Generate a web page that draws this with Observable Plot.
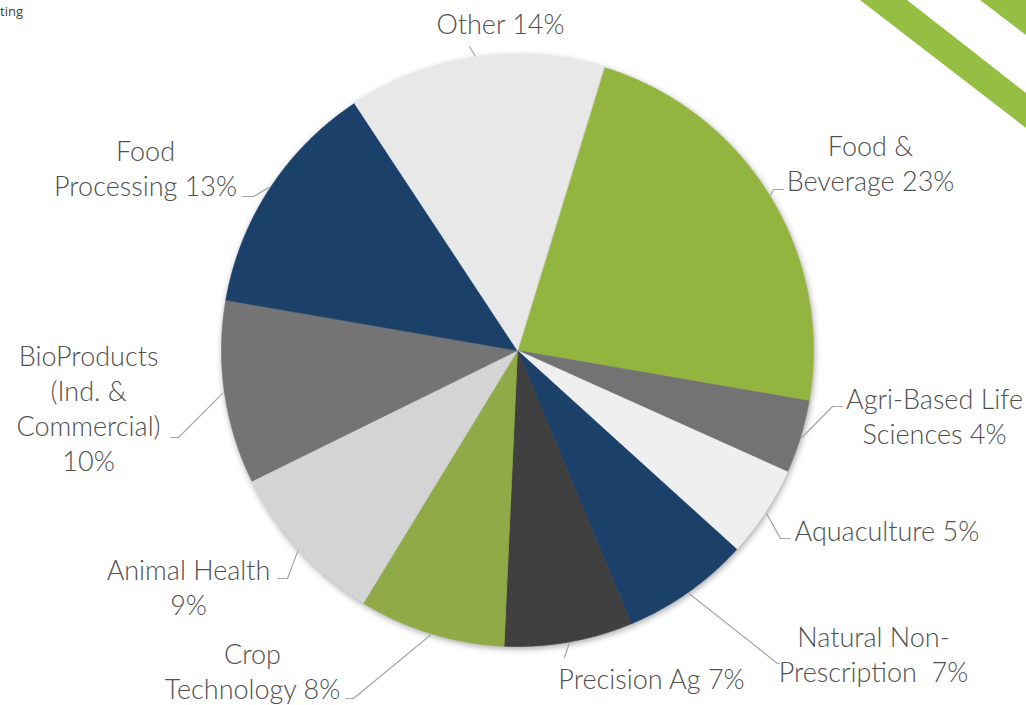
<!DOCTYPE html>
<html>
<head>
<meta charset="utf-8">
<script src="https://cdn.jsdelivr.net/npm/d3@7"></script>
<script src="https://cdn.jsdelivr.net/npm/@observablehq/plot@0.6"></script>
<style>
  html, body { margin: 0; padding: 0; background: #fff; }
  #wrap { position: relative; width: 1026px; height: 705px; overflow: hidden; }
  #corner { position: absolute; left: 0; top: 2px; font: 13px "Open Sans", sans-serif; color: #404040; }
  .stripe { position: absolute; left: 0; top: 0; width: 1026px; height: 705px; background: #94bf43;
            filter: drop-shadow(2px 2px 2px rgba(0,0,0,0.3)); }
</style>
</head>
<body>
<div id="wrap"></div>
<script>
// ---- data ----
const categories = ["Food & Beverage", "Agri-Based Life Sciences", "Aquaculture", "Natural Non-Prescription",
  "Precision Ag", "Crop Technology", "Animal Health", "BioProducts (Ind. & Commercial)", "Food Processing", "Other"];
const shares = [23, 4, 5, 7, 7, 8, 9, 10, 13, 14];
const labels = ["Food &\nBeverage 23%", "Agri-Based Life\nSciences 4%", "Aquaculture 5%", "Natural Non-\nPrescription  7%",
  "Precision Ag 7%", "Crop\nTechnology 8%", "Animal Health\n9%", "BioProducts\n(Ind. &\nCommercial)\n10%",
  "Food\nProcessing 13%", "Other 14%"];
const colors = ["#93b540", "#737373", "#efefef", "#1b416b", "#404040", "#8faa46", "#d4d4d4", "#747474", "#1b416b", "#e8e8e8"];

// ---- layout (pixels) ----
const W = 1026, H = 705, CX = 517, CY = 350, R = 296, START = 17;
// label first-line center, leader elbow, leader end
const labelAt = [[870,144],[934,397],[794,529],[873,635],[651,677],[252,652],[188,568],[88,354],[145,149],[500,22]];
const anchorAt = ["middle","middle","start","middle","middle","middle","middle","middle","middle","middle"];
const elbowAt = [[773,189],[832,406],[780,538],[777,663],[564,657],[353,698],[287,578],[178,437],[253,196],[469,46]];
const endAt   = [[783,189],[842,406],[790,538],[779,663],[564,657],[345,698],[277,578],[170,437],[242,196],[469,46]];
const LINE = 35, FS = 27;

const ux = px => (px - CX) / R;
const uy = py => (CY - py) / R;
const rad = d => d * Math.PI / 180;

// slices
const total = d3.sum(shares);
let acc = 0;
const slices = [], leaders = [], texts = [];
categories.forEach((c, i) => {
  const a0 = START + acc / total * 360;
  acc += shares[i];
  const a1 = START + acc / total * 360;
  slices.push({name: c, x: 0, y: 0});
  const n = Math.max(2, Math.ceil((a1 - a0) / 0.5));
  for (let k = 0; k <= n; k++) {
    const a = rad(a0 + (a1 - a0) * k / n);
    slices.push({name: c, x: Math.sin(a), y: Math.cos(a)});
  }
  const am = rad((a0 + a1) / 2);
  leaders.push({name: c, x: Math.sin(am) * 1.005, y: Math.cos(am) * 1.005});
  leaders.push({name: c, x: ux(elbowAt[i][0]), y: uy(elbowAt[i][1])});
  leaders.push({name: c, x: ux(endAt[i][0]), y: uy(endAt[i][1])});
  const nl = labels[i].split("\n").length;
  texts.push({name: c, text: labels[i], x: ux(labelAt[i][0]), y: uy(labelAt[i][1] + (nl - 1) * LINE / 2), anchor: anchorAt[i]});
});

const plot = Plot.plot({
  width: W, height: H,
  margin: 0,
  x: {axis: null, domain: [ux(0), ux(W)], range: [0, W]},
  y: {axis: null, domain: [uy(H), uy(0)], range: [H, 0]},
  color: {domain: categories, range: colors},
  style: {background: "transparent", overflow: "visible"},
  marks: [
    Plot.line(slices, {x: "x", y: "y", z: "name", fill: "name", stroke: "name", strokeWidth: 0.6, curve: "linear-closed"}),
    Plot.line(leaders, {x: "x", y: "y", z: "name", stroke: "#a6a6a6", strokeWidth: 1.2}),
    ...["middle", "start"].map(anc => Plot.text(texts.filter(d => d.anchor === anc), {
      x: "x", y: "y", text: "text", textAnchor: anc, lineAnchor: "middle", lineHeight: LINE / FS,
      fontSize: FS, fontFamily: "Lato, 'Open Sans', sans-serif", fontWeight: 300, fill: "#505050"
    }))
  ]
});
d3.select(plot).select("g[aria-label=line]").style("filter", "drop-shadow(1px 2px 3px rgba(0,0,0,0.35))");

const wrap = document.getElementById("wrap");
const s1 = document.createElement("div"); s1.className = "stripe";
s1.style.clipPath = "polygon(860px 0px, 907px 0px, 1026px 93px, 1026px 128px)";
const s2 = document.createElement("div"); s2.className = "stripe";
s2.style.clipPath = "polygon(980px 0px, 1026px 0px, 1026px 35px)";
const corner = document.createElement("div"); corner.id = "corner"; corner.textContent = "ting";
wrap.appendChild(plot);
wrap.appendChild(s1); wrap.appendChild(s2); wrap.appendChild(corner);
</script>
</body>
</html>
